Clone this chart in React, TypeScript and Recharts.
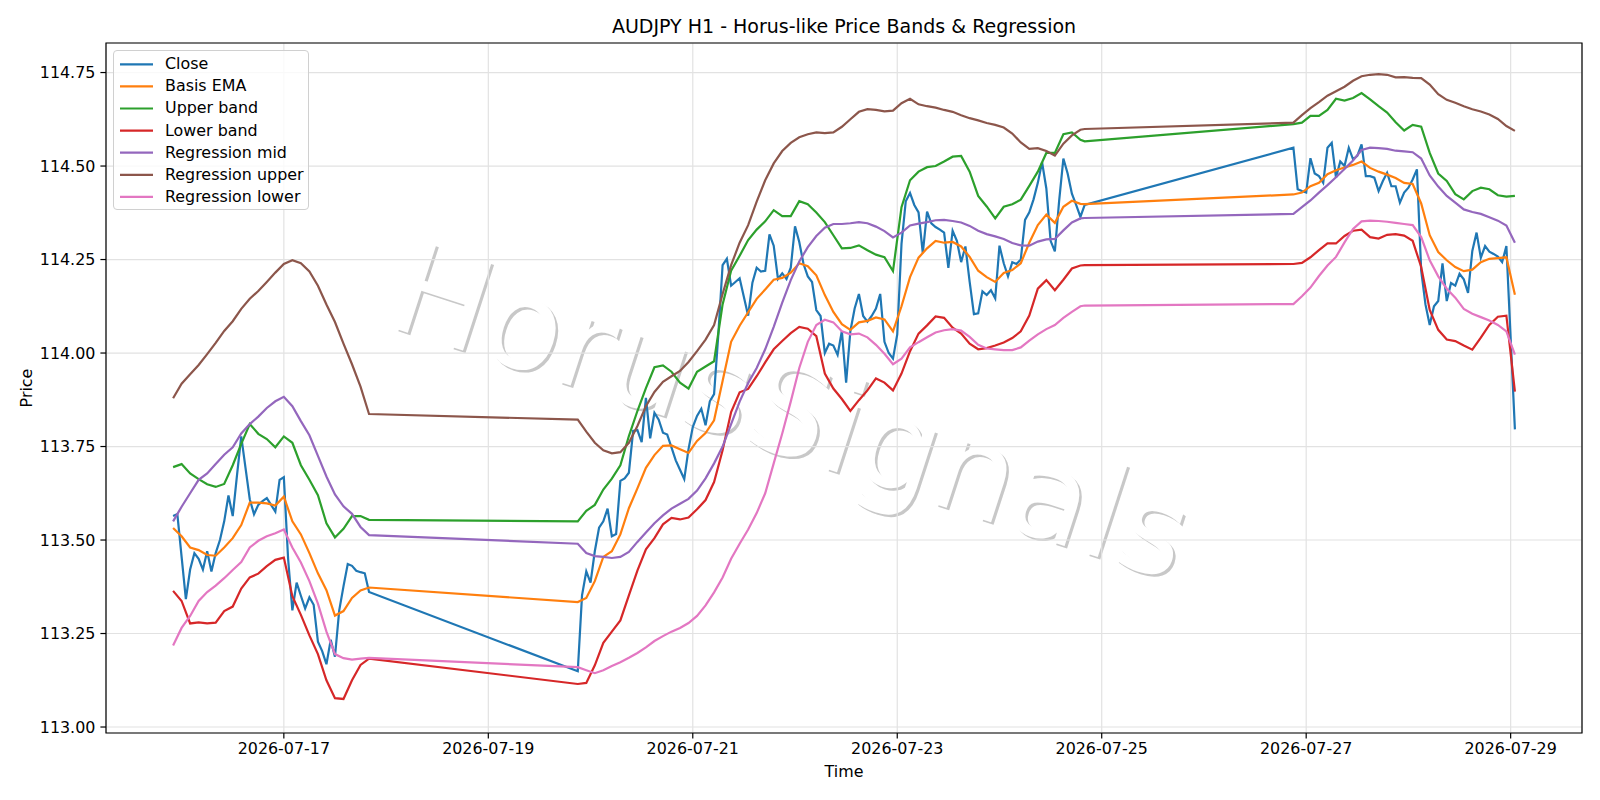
import React from "react";
import { LineChart, Line, XAxis, YAxis, CartesianGrid, ReferenceArea } from "recharts";

const FONT = '"DejaVu Sans", Verdana, sans-serif';

// x = hours since 2026-07-15 00:00, hourly bars, weekend gaps skipped
function hourRange(from: number, to: number, step = 1): number[] {
  const out: number[] = [];
  for (let h = from; h <= to; h += step) out.push(h);
  return out;
}

const closeHours = [...hourRange(22, 68), ...hourRange(117, 236), ...hourRange(285, 337)];
const bandHours = [...hourRange(22, 68, 2), ...hourRange(117, 235, 2), 236, ...hourRange(285, 337, 2)];

const closePrice = [
  // 07-15 22:00 .. 07-17 20:00
  113.564, 113.569, 113.455, 113.342, 113.421, 113.465, 113.45, 113.421, 113.47, 113.416,
  113.465, 113.5, 113.55, 113.619, 113.564, 113.673, 113.777, 113.693, 113.609, 113.569,
  113.594, 113.604, 113.612, 113.594, 113.576, 113.661, 113.668, 113.45, 113.312, 113.386,
  113.351, 113.317, 113.347, 113.327, 113.228, 113.203, 113.168, 113.233, 113.188, 113.312,
  113.376, 113.436, 113.431, 113.418, 113.414, 113.411, 113.361,
  // 07-19 21:00 .. 07-24 20:00
  113.149, 113.352, 113.416, 113.386, 113.47, 113.533, 113.55, 113.584, 113.51, 113.516,
  113.658, 113.665, 113.68, 113.792, 113.794, 113.762, 113.88, 113.772, 113.84, 113.822,
  113.787, 113.782, 113.748, 113.713, 113.688, 113.663, 113.743, 113.802, 113.832, 113.851,
  113.807, 113.871, 113.89, 114.05, 114.235, 114.252, 114.18, 114.19, 114.2, 114.15,
  114.1, 114.188, 114.228, 114.218, 114.22, 114.317, 114.287, 114.198, 114.213, 114.198,
  114.228, 114.339, 114.297, 114.238, 114.205, 114.19, 114.115, 114.099, 114.0, 114.025,
  114.02, 113.995, 114.059, 113.921, 114.059, 114.119, 114.158, 114.099, 114.084, 114.099,
  114.119, 114.158, 114.03, 114.0, 113.985, 114.05, 114.292, 114.406, 114.428, 114.396,
  114.376, 114.267, 114.378, 114.347, 114.337, 114.33, 114.322, 114.228, 114.327, 114.3,
  114.243, 114.285, 114.19, 114.104, 114.106, 114.165, 114.155, 114.168, 114.146, 114.287,
  114.24, 114.205, 114.243, 114.238, 114.25, 114.356, 114.376, 114.411, 114.455, 114.51,
  114.44, 114.3, 114.272, 114.406, 114.52, 114.48, 114.426, 114.396, 114.364, 114.396,
  // 07-26 21:00 .. 07-29 01:00
  114.549, 114.438, 114.433, 114.429, 114.521, 114.48, 114.473, 114.455, 114.549, 114.562,
  114.469, 114.512, 114.5, 114.549, 114.518, 114.527, 114.558, 114.473, 114.473, 114.469,
  114.433, 114.46, 114.482, 114.446, 114.446, 114.402, 114.429, 114.442, 114.464, 114.491,
  114.22, 114.13, 114.075, 114.125, 114.139, 114.24, 114.139, 114.187, 114.18, 114.212,
  114.197, 114.161, 114.273, 114.322, 114.255, 114.286, 114.271, 114.265, 114.258, 114.243,
  114.286, 114.04, 113.796,
];

const basisEma = [
  113.532, 113.51, 113.48, 113.473, 113.46, 113.458, 113.48, 113.505, 113.54, 113.6,
  113.6, 113.598, 113.592, 113.616, 113.55, 113.515, 113.465, 113.411, 113.366, 113.298,
  113.31, 113.345, 113.365, 113.373,
  113.334, 113.345, 113.39, 113.455, 113.47, 113.515, 113.585, 113.638, 113.693, 113.727,
  113.752, 113.753, 113.743, 113.733, 113.765, 113.786, 113.82, 113.925, 114.03, 114.073,
  114.109, 114.145, 114.17, 114.196, 114.201, 114.215, 114.24, 114.232, 114.208, 114.155,
  114.11, 114.077, 114.062, 114.082, 114.086, 114.095, 114.09, 114.058, 114.125, 114.203,
  114.255, 114.28, 114.3, 114.295, 114.297, 114.285, 114.257, 114.22, 114.203, 114.19,
  114.214, 114.222, 114.24, 114.295, 114.342, 114.37, 114.348, 114.391, 114.407, 114.399,
  114.398,
  114.424, 114.429, 114.446, 114.455, 114.478, 114.489, 114.496, 114.503, 114.512, 114.495,
  114.485, 114.477, 114.468, 114.455, 114.452, 114.4, 114.315, 114.27, 114.248, 114.23,
  114.219, 114.223, 114.243, 114.252, 114.254, 114.256, 114.156,
];

const upperBand = [
  113.695, 113.703, 113.678, 113.663, 113.649, 113.642, 113.65, 113.7, 113.757, 113.81,
  113.784, 113.77, 113.748, 113.777, 113.76, 113.7, 113.661, 113.62, 113.545, 113.507,
  113.53, 113.564, 113.564, 113.554,
  113.55, 113.578, 113.594, 113.635, 113.664, 113.7, 113.778, 113.845, 113.906, 113.962,
  113.967, 113.95, 113.921, 113.905, 113.95, 113.964, 113.978, 114.13, 114.22, 114.26,
  114.302, 114.33, 114.352, 114.382, 114.366, 114.366, 114.406, 114.398, 114.376, 114.35,
  114.315, 114.28, 114.281, 114.288, 114.275, 114.263, 114.256, 114.219, 114.39, 114.462,
  114.485, 114.497, 114.5, 114.512, 114.525, 114.527, 114.485, 114.42, 114.392, 114.36,
  114.391, 114.398, 114.41, 114.447, 114.485, 114.535, 114.535, 114.585, 114.59, 114.57,
  114.566,
  114.612, 114.616, 114.634, 114.634, 114.65, 114.68, 114.675, 114.682, 114.695, 114.678,
  114.66, 114.643, 114.617, 114.595, 114.61, 114.605, 114.535, 114.48, 114.46, 114.425,
  114.411, 114.433, 114.442, 114.438, 114.422, 114.418, 114.42,
];

const lowerBand = [
  113.364, 113.337, 113.277, 113.28, 113.277, 113.279, 113.31, 113.322, 113.37, 113.4,
  113.41, 113.43, 113.447, 113.453, 113.35, 113.3, 113.245, 113.195, 113.125, 113.077,
  113.075, 113.125, 113.166, 113.183,
  113.115, 113.118, 113.165, 113.225, 113.255, 113.285, 113.352, 113.418, 113.475, 113.505,
  113.542, 113.559, 113.555, 113.56, 113.582, 113.607, 113.655, 113.74, 113.842, 113.895,
  113.904, 113.938, 113.975, 114.01, 114.032, 114.053, 114.07, 114.065, 114.045, 113.945,
  113.905, 113.877, 113.845, 113.874, 113.9, 113.932, 113.921, 113.9, 113.945, 114.005,
  114.052, 114.074, 114.098, 114.094, 114.068, 114.052, 114.025, 114.01, 114.013, 114.02,
  114.028, 114.04, 114.058, 114.1, 114.172, 114.195, 114.168, 114.196, 114.226, 114.234,
  114.235,
  114.238, 114.241, 114.256, 114.275, 114.293, 114.293, 114.313, 114.327, 114.33, 114.31,
  114.306, 114.316, 114.318, 114.314, 114.3, 114.23, 114.115, 114.062, 114.036, 114.032,
  114.02, 114.009, 114.041, 114.075, 114.097, 114.1, 113.897,
];

const regMid = [
  113.55, 113.589, 113.625, 113.661, 113.678, 113.703, 113.728, 113.748, 113.785, 113.81,
  113.83, 113.853, 113.871, 113.883, 113.858, 113.818, 113.78, 113.725, 113.67, 113.622,
  113.59, 113.57, 113.535, 113.513,
  113.49, 113.465, 113.457, 113.455, 113.452, 113.455, 113.468, 113.495, 113.52, 113.545,
  113.566, 113.584, 113.597, 113.61, 113.632, 113.665, 113.705, 113.75, 113.81, 113.87,
  113.92, 113.96, 114.01, 114.07, 114.135, 114.195, 114.245, 114.283, 114.313, 114.335,
  114.345, 114.345, 114.347, 114.35, 114.347, 114.338, 114.326, 114.309, 114.322, 114.341,
  114.346, 114.35, 114.355, 114.356, 114.353, 114.349, 114.34, 114.327, 114.318, 114.312,
  114.305, 114.294, 114.288, 114.287, 114.298, 114.304, 114.305, 114.328, 114.349, 114.36,
  114.361,
  114.372, 114.39, 114.408, 114.429, 114.449, 114.47, 114.492, 114.515, 114.543, 114.549,
  114.548, 114.546, 114.541, 114.539, 114.537, 114.52, 114.475, 114.445, 114.42, 114.402,
  114.384, 114.377, 114.372, 114.363, 114.354, 114.341, 114.295,
];

const regUpper = [
  113.879, 113.918, 113.943, 113.968, 113.997, 114.027, 114.059, 114.085, 114.118, 114.145,
  114.166, 114.19, 114.215, 114.238, 114.248, 114.24, 114.218, 114.18, 114.13, 114.083,
  114.025, 113.97, 113.91, 113.837,
  113.822, 113.79, 113.76, 113.74, 113.732, 113.735, 113.76, 113.805, 113.858, 113.896,
  113.923, 113.938, 113.952, 113.976, 114.005, 114.036, 114.075, 114.158, 114.235, 114.295,
  114.342, 114.405, 114.462, 114.507, 114.54, 114.562, 114.577, 114.585, 114.59, 114.588,
  114.59, 114.605, 114.625, 114.645, 114.652, 114.65, 114.646, 114.648, 114.668, 114.68,
  114.665, 114.66, 114.656, 114.65, 114.645, 114.636, 114.628, 114.622, 114.615, 114.61,
  114.603, 114.587, 114.563, 114.546, 114.548, 114.54, 114.528, 114.56, 114.582, 114.597,
  114.599,
  114.616, 114.636, 114.655, 114.671, 114.688, 114.7, 114.712, 114.728, 114.74, 114.744,
  114.746, 114.744, 114.737, 114.738, 114.736, 114.735, 114.718, 114.692, 114.677, 114.669,
  114.66, 114.652, 114.646, 114.638, 114.626, 114.607, 114.594,
];

const regLower = [
  113.218, 113.265, 113.297, 113.337, 113.361, 113.378, 113.398, 113.42, 113.441, 113.48,
  113.498, 113.51, 113.518, 113.528, 113.48, 113.44, 113.39, 113.33, 113.255, 113.195,
  113.184, 113.18, 113.183, 113.185,
  113.16, 113.152, 113.144, 113.152, 113.163, 113.173, 113.185, 113.198, 113.213, 113.23,
  113.243, 113.255, 113.265, 113.278, 113.297, 113.325, 113.36, 113.4, 113.45, 113.49,
  113.528, 113.572, 113.625, 113.705, 113.785, 113.87, 113.96, 114.03, 114.075, 114.089,
  114.082, 114.058, 114.05, 114.052, 114.042, 114.022, 113.998, 113.97, 113.985, 114.015,
  114.029, 114.042, 114.055, 114.061, 114.064, 114.06, 114.043, 114.022, 114.012, 114.01,
  114.008, 114.008, 114.015, 114.033, 114.05, 114.064, 114.075, 114.094, 114.11, 114.125,
  114.127,
  114.131, 114.152, 114.175, 114.206, 114.234, 114.257, 114.296, 114.332, 114.352, 114.354,
  114.353, 114.351, 114.348, 114.345, 114.342, 114.31, 114.248, 114.205, 114.172, 114.148,
  114.118, 114.105, 114.096, 114.087, 114.075, 114.058, 113.996,
];

const xTicks = [48, 96, 144, 192, 240, 288, 336];
const xTickLabels = ["2026-07-17", "2026-07-19", "2026-07-21", "2026-07-23", "2026-07-25", "2026-07-27", "2026-07-29"];
const yTicks = [113, 113.25, 113.5, 113.75, 114, 114.25, 114.5, 114.75];

const seriesNames = ["Close", "Basis EMA", "Upper band", "Lower band", "Regression mid", "Regression upper", "Regression lower"];
const seriesColors = ["#1f77b4", "#ff7f0e", "#2ca02c", "#d62728", "#9467bd", "#8c564b", "#e377c2"];

const X_DOMAIN: [number, number] = [6.25, 352.75];
const Y_DOMAIN: [number, number] = [112.984, 114.829];

const closeData = closeHours.map((h, i) => ({ h, close: closePrice[i] }));
const bandData = bandHours.map((h, i) => ({
  h,
  ema: basisEma[i],
  upper: upperBand[i],
  lower: lowerBand[i],
  mid: regMid[i],
  rupper: regUpper[i],
  rlower: regLower[i],
}));

const tickStyle = { fontFamily: FONT, fontSize: 15.9, fill: "#000" };

// faint "HorusSignals" watermark with a small drop shadow
function Watermark() {
  const common = {
    fontFamily: FONT,
    fontSize: 127,
    textAnchor: "middle" as const,
  };
  return (
    <svg width={1600} height={800} style={{ position: "absolute", left: 0, top: 0 }}>
      <g transform="translate(780.5,455.5) rotate(18)">
        <text {...common} fill="#c8c8c8">HorusSignals</text>
      </g>
      <g transform="translate(778,453) rotate(18)">
        <text {...common} fill="#ffffff">HorusSignals</text>
      </g>
    </svg>
  );
}

function LegendBox() {
  return (
    <div
      style={{
        position: "absolute",
        left: 113,
        top: 50,
        width: 194,
        height: 158,
        border: "1px solid #d0d0d0",
        borderRadius: 4,
        background: "rgba(255,255,255,0.8)",
        fontFamily: FONT,
        fontSize: 15.9,
      }}
    >
      <svg width={40} height={158} style={{ position: "absolute", left: 0, top: 0 }}>
        {seriesColors.map((c, i) => (
          <line key={c} x1={6} x2={39} y1={13.3 + i * 22.1} y2={13.3 + i * 22.1} stroke={c} strokeWidth={2.2} />
        ))}
      </svg>
      {seriesNames.map((name, i) => (
        <div
          key={name}
          style={{ position: "absolute", left: 51, top: 2.2 + i * 22.1, height: 22.1, lineHeight: "22.1px", whiteSpace: "nowrap" }}
        >
          {name}
        </div>
      ))}
    </div>
  );
}

export default function App() {
  const lineProps = { dot: false, isAnimationActive: false, strokeWidth: 2.2, type: "linear" as const };
  return (
    <div style={{ position: "absolute", left: 0, top: 0, width: 1600, height: 800, background: "#fff", overflow: "hidden" }}>
      <Watermark />
      <div style={{ position: "absolute", left: 0, top: 0 }}>
        <LineChart width={1600} height={800} margin={{ top: 43, right: 18, bottom: 0, left: 0 }}>
          <CartesianGrid stroke="#e2e2e2" strokeWidth={1.2} />
          <XAxis
            dataKey="h"
            type="number"
            domain={X_DOMAIN}
            ticks={xTicks}
            interval={0}
            allowDataOverflow
            height={67}
            axisLine={false}
            tickLine={{ stroke: "#000", strokeWidth: 1.2 }}
            tickSize={5.6}
            tickMargin={4}
            tick={tickStyle}
            tickFormatter={(v: number) => xTickLabels[xTicks.indexOf(v)] ?? ""}
          />
          <YAxis
            type="number"
            domain={Y_DOMAIN}
            ticks={yTicks}
            interval={0}
            allowDataOverflow
            width={106}
            axisLine={false}
            tickLine={{ stroke: "#000", strokeWidth: 1.2 }}
            tickSize={5.6}
            tickMargin={5}
            tick={tickStyle}
            tickFormatter={(v: number) => v.toFixed(2)}
          />
          <ReferenceArea
            x1={X_DOMAIN[0]}
            x2={X_DOMAIN[1]}
            y1={Y_DOMAIN[0]}
            y2={Y_DOMAIN[1]}
            fill="none"
            stroke="#000"
            strokeWidth={1.2}
            ifOverflow="visible"
          />
          <Line data={closeData} dataKey="close" stroke={seriesColors[0]} {...lineProps} />
          <Line data={bandData} dataKey="ema" stroke={seriesColors[1]} {...lineProps} />
          <Line data={bandData} dataKey="upper" stroke={seriesColors[2]} {...lineProps} />
          <Line data={bandData} dataKey="lower" stroke={seriesColors[3]} {...lineProps} />
          <Line data={bandData} dataKey="mid" stroke={seriesColors[4]} {...lineProps} />
          <Line data={bandData} dataKey="rupper" stroke={seriesColors[5]} {...lineProps} />
          <Line data={bandData} dataKey="rlower" stroke={seriesColors[6]} {...lineProps} />
        </LineChart>
      </div>
      <div style={{ position: "absolute", left: 0, width: 1688, top: 15, textAlign: "center", fontFamily: FONT, fontSize: 19, whiteSpace: "nowrap" }}>
        AUDJPY H1 - Horus-like Price Bands &amp; Regression
      </div>
      <div style={{ position: "absolute", left: 0, width: 1688, top: 762, textAlign: "center", fontFamily: FONT, fontSize: 15.9 }}>
        Time
      </div>
      <div
        style={{
          position: "absolute",
          left: 26,
          top: 388,
          transform: "translate(-50%, -50%) rotate(-90deg)",
          fontFamily: FONT,
          fontSize: 15.9,
          whiteSpace: "nowrap",
        }}
      >
        Price
      </div>
      <LegendBox />
    </div>
  );
}
